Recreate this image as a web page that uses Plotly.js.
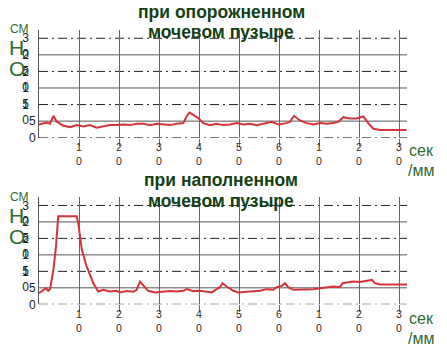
<!DOCTYPE html>
<html><head><meta charset="utf-8">
<script src="https://cdn.plot.ly/plotly-3.0.1.min.js"></script>
<style>html,body{margin:0;padding:0;background:#fff}#c{width:447px;height:351px}</style>
</head><body><div id="c"></div>
<script>
// ---- data ----
var titleTop = ["при опорожненном", "мочевом пузыре"];
var titleBottom = ["при наполненном", "мочевом пузыре"];
var yTitle = ["СМ", "H", "O"];
var xTitle = ["сек", "/мм"];
var yTickVals = [0, 5, 10, 15, 20, 25, 30];
var yTickLabels = ["0", "5", "10", "15", "20", "25", "30"];
var xTickVals = [10, 20, 30, 40, 50, 60, 70, 80, 90];
var xTickLabels = ["10", "20", "30", "40", "50", "60", "10", "20", "30"];
var dashGridVals = [0, 10, 20, 30];
var solidGridVals = [5, 15, 25];

var emptyX = [0, 1.9, 2.75, 3.6, 4.4, 6.1, 7.75, 9.4, 11.1, 12.75, 14.4, 16.1, 17.75, 19.4, 21.1, 22.75, 24.4, 26.1, 27.75, 29.4, 31.1, 32.75, 34.4, 36.1, 36.9, 37.6, 38.6, 39.8, 41.1, 42.75, 44.4, 46.1, 47.75, 49.4, 51.1, 52.75, 54.4, 56.1, 58.2, 59.8, 61.9, 62.75, 63.75, 65.25, 66.9, 68.6, 70.25, 71.9, 73.6, 74.8, 76.1, 77.75, 79.4, 81.1, 82.3, 83.6, 85.25, 91.9];
var emptyY = [4.0, 4.6, 4.2, 6.6, 4.9, 3.6, 3.2, 3.8, 3.4, 3.8, 3.0, 3.4, 3.8, 3.8, 4.0, 3.8, 4.2, 4.2, 3.8, 4.2, 4.0, 3.8, 4.2, 4.4, 6.4, 7.6, 6.9, 5.9, 4.4, 3.8, 4.2, 3.8, 4.0, 4.4, 4.0, 4.2, 3.8, 4.2, 4.8, 4.0, 4.4, 4.8, 6.6, 5.2, 4.4, 4.0, 4.4, 4.2, 4.4, 4.8, 6.2, 5.8, 5.8, 6.4, 4.4, 2.7, 2.35, 2.35];

var fullX = [0, 1.1, 1.7, 2.3, 2.75, 3.6, 4.25, 4.8, 9.4, 9.8, 10.7, 11.9, 13.6, 14.8, 16.1, 17.75, 19.4, 20.25, 21.9, 23.6, 24.4, 25.25, 26.1, 27.3, 29.0, 31.1, 32.75, 34.4, 36.1, 36.9, 38.6, 40.25, 41.9, 43.2, 44.4, 45.25, 45.9, 46.9, 48.6, 49.8, 51.9, 53.6, 55.25, 56.9, 58.6, 59.4, 60.7, 61.5, 62.3, 63.6, 65.25, 66.9, 68.6, 70.25, 71.9, 73.6, 75.25, 75.9, 76.9, 78.6, 80.25, 81.9, 83.2, 84, 85.25, 92];
var fullY = [3.35, 4.4, 4.9, 4.1, 4.6, 10.5, 17.6, 26.7, 26.7, 24.7, 16.6, 11.5, 6.4, 3.9, 4.4, 3.9, 4.1, 3.6, 4.0, 3.8, 4.4, 6.9, 5.6, 4.1, 3.6, 3.9, 4.0, 3.9, 4.1, 4.6, 4.0, 4.1, 3.9, 3.6, 4.6, 5.2, 6.4, 5.4, 4.1, 3.6, 3.8, 4.0, 4.1, 4.6, 4.4, 5.2, 5.6, 6.4, 5.2, 4.4, 4.4, 4.6, 4.6, 4.9, 5.2, 5.4, 5.2, 6.4, 6.6, 6.9, 6.8, 7.2, 7.4, 6.4, 6.0, 6.0];

// ---- layout helpers ----
var W = 447, H = 351;
function px(x) { return x / W; }
function py(y) { return 1 - y / H; }
var FONT = "Liberation Sans, Arial, sans-serif";
var GREEN_T = "#133f13", GREEN = "#2f6a2f";

function stackLabel(s) {
  if (s.length < 2) return s;
  return "&nbsp;<br>" + s.split('').map(function (c) { return c + "&nbsp;&nbsp;"; }).join('<br>');
}
function stackX(s) { return s.split('').join('<br>'); }

function xAxis(anchor, dom) {
  return {
    domain: dom, anchor: anchor, range: [0, 92], showline: false, zeroline: false,
    tickmode: 'array', tickvals: xTickVals, ticktext: xTickLabels.map(stackX),
    ticks: 'outside', ticklen: 7, tickcolor: '#666', tickwidth: 1, ticklabelstandoff: -7,
    showgrid: true, gridcolor: '#666', gridwidth: 1,
    tickfont: {family: FONT, size: 10.5, color: '#2a2a2a'}, automargin: false, fixedrange: true
  };
}
function yAxis(anchor, dom) {
  return {
    domain: dom, anchor: anchor, range: [0, 32.5], showline: true, linecolor: '#555', linewidth: 1,
    zeroline: false, showgrid: false, ticks: '',
    tickmode: 'array', tickvals: yTickVals, ticktext: yTickLabels.map(stackLabel),
    tickfont: {family: FONT, size: 12, color: '#222'}, automargin: false, fixedrange: true
  };
}

var shapes = [];
[['x', 'y'], ['x2', 'y2']].forEach(function (ax) {
  dashGridVals.forEach(function (v) {
    shapes.push({type: 'line', xref: ax[0], yref: ax[1], x0: 0, x1: 92, y0: v, y1: v,
      line: {color: '#222', width: 1, dash: '9px,4px,2px,4px'}, layer: 'below'});
  });
  solidGridVals.forEach(function (v) {
    shapes.push({type: 'line', xref: ax[0], yref: ax[1], x0: 0, x1: 92, y0: v, y1: v,
      line: {color: '#555', width: 1}, layer: 'below'});
  });
});

var annotations = [];
function ann(text, x, y, size, color, bold) {
  annotations.push({xref: 'paper', yref: 'paper', x: px(x), y: py(y), xanchor: 'center', yanchor: 'middle',
    text: bold ? '<b>' + text + '</b>' : text, showarrow: false,
    font: {family: FONT, size: size, color: color}});
}
[[0, titleTop], [168, titleBottom]].forEach(function (p) {
  var o = p[0], t = p[1];
  ann(t[0], 221, 12 + o, 17.5, GREEN_T, true);
  ann(t[1], 221, 32.5 + o, 17.5, GREEN_T, true);
  ann(yTitle[0], 19.5, 29 + o, 12, GREEN, false);
  ann(yTitle[1], 16, 47 + o, 21, GREEN, false);
  ann(yTitle[2], 16.5, 68 + o, 21, GREEN, false);
  ann(xTitle[0], 421, 150 + o, 16, GREEN, false);
  ann(xTitle[1], 421, 170 + o, 16, GREEN, false);
});

var topDom = [py(137.7), py(30)];
var botDom = [py(304.3), py(197.2)];
var xDom = [px(39), px(407)];

var traces = [
  {x: emptyX, y: emptyY, xaxis: 'x', yaxis: 'y', mode: 'lines', line: {color: '#d5333a', width: 2}, hoverinfo: 'skip'},
  {x: fullX, y: fullY, xaxis: 'x2', yaxis: 'y2', mode: 'lines', line: {color: '#d5333a', width: 2}, hoverinfo: 'skip'}
];

var layout = {
  width: W, height: H, margin: {l: 0, r: 0, t: 0, b: 0},
  paper_bgcolor: '#fff', plot_bgcolor: '#fff', showlegend: false,
  xaxis: xAxis('y', xDom), yaxis: yAxis('x', topDom),
  xaxis2: xAxis('y2', xDom), yaxis2: yAxis('x2', botDom),
  shapes: shapes, annotations: annotations
};
Plotly.newPlot('c', traces, layout, {staticPlot: true, displayModeBar: false});
</script></body></html>
